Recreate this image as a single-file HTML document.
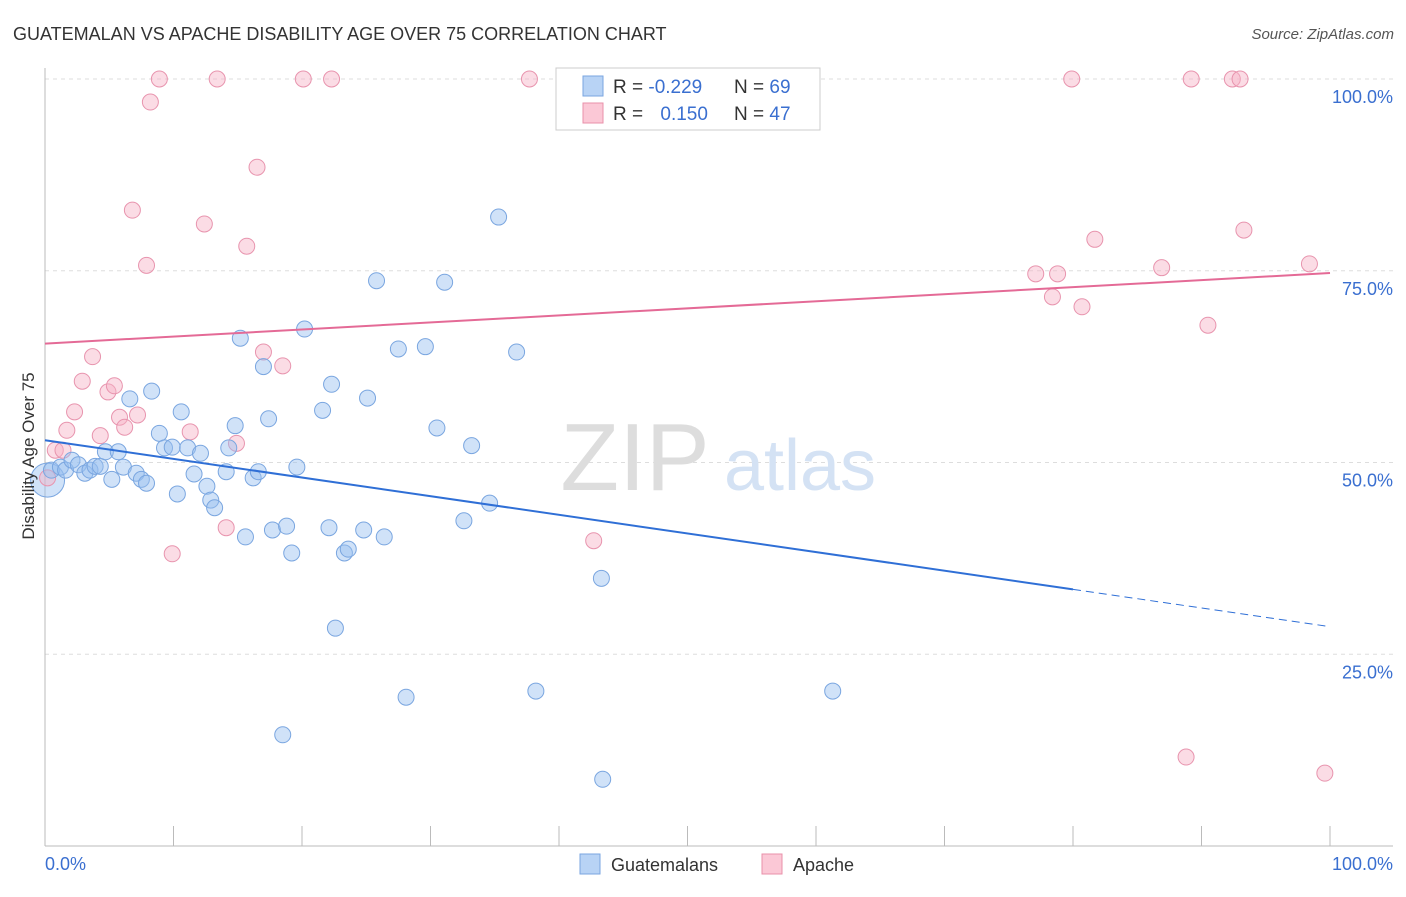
<!DOCTYPE html>
<html><head><meta charset="utf-8">
<style>
body{margin:0;background:#fff;font-family:"Liberation Sans",sans-serif;}
svg text{font-family:"Liberation Sans",sans-serif;}
</style></head>
<body>
<svg id="chart" width="1406" height="892" viewBox="0 0 1406 892" xmlns="http://www.w3.org/2000/svg">
<text x="13" y="40" font-size="18" fill="#333">GUATEMALAN VS APACHE DISABILITY AGE OVER 75 CORRELATION CHART</text>
<text x="1394" y="39" font-size="15" fill="#555" text-anchor="end" font-style="italic">Source: ZipAtlas.com</text>
<g id="grid"></g>
<g>
<text x="635" y="490" font-size="96" font-family="Liberation Serif" fill="#ddd" text-anchor="middle">ZIP</text>
<text x="800" y="490" font-size="72" fill="#d4e2f4" text-anchor="middle">atlas</text>
</g>
<g id="axes"></g>
<g id="marks"></g>
<g id="trends"></g>
<text transform="translate(34,456) rotate(-90)" font-size="17" fill="#333" text-anchor="middle">Disability Age Over 75</text>
<g>
<rect x="556" y="68" width="264" height="62" fill="#fff" stroke="#ccc"/>
<rect x="583" y="76" width="20" height="20" fill="#b8d3f5" stroke="#7aa6e0"/>
<rect x="583" y="103" width="20" height="20" fill="#fbc8d6" stroke="#e890aa"/>
<text x="613" y="93" font-size="19" fill="#333">R = <tspan fill="#3a6fd0">-0.229</tspan></text>
<text x="734" y="93" font-size="19" fill="#333">N = <tspan fill="#3a6fd0">69</tspan></text>
<text x="613" y="120" font-size="19" fill="#333">R = <tspan fill="#3a6fd0" dx="12">0.150</tspan></text>
<text x="734" y="120" font-size="19" fill="#333">N = <tspan fill="#3a6fd0">47</tspan></text>
</g>
<g>
<rect x="580" y="854" width="20" height="20" fill="#b8d3f5" stroke="#7aa6e0"/>
<text x="611" y="871" font-size="18" fill="#333">Guatemalans</text>
<rect x="762" y="854" width="20" height="20" fill="#fbc8d6" stroke="#e890aa"/>
<text x="793" y="871" font-size="18" fill="#333">Apache</text>
</g>
</svg>
<script>
const yTicks=[25,50,75,100];
const yTickLabels=["25.0%","50.0%","75.0%","100.0%"];
const xTicks=[0,10,20,30,40,50,60,70,80,90,100];
const blueX=[0.5,1.2,1.6,2.1,2.6,3.1,3.5,3.9,4.3,4.7,5.2,5.7,6.1,6.6,7.1,7.5,7.9,8.3,8.9,9.3,9.9,10.3,10.6,11.1,11.6,12.1,12.6,12.9,13.2,14.1,14.3,14.8,15.2,15.6,16.2,16.6,17.0,17.4,17.7,18.8,18.5,19.2,19.6,20.2,21.6,22.1,22.3,22.6,23.3,23.6,24.8,25.1,25.8,26.4,27.5,28.1,29.6,30.5,31.1,32.6,33.2,34.6,35.3,36.7,38.2,43.3,43.4,61.3];
const blueY=[49.0,49.4,49.0,50.3,49.7,48.6,49.0,49.5,49.5,51.4,47.8,51.4,49.4,58.3,48.6,47.8,47.3,59.3,53.8,51.9,52.0,45.9,56.6,51.9,48.5,51.2,46.9,45.1,44.1,48.8,51.9,54.8,66.2,40.3,48.0,48.8,62.5,55.7,41.2,41.7,14.5,38.2,49.4,67.4,56.8,41.5,60.2,28.4,38.2,38.7,41.2,58.4,73.7,40.3,64.8,19.4,65.1,54.5,73.5,42.4,52.2,44.7,82.0,64.4,20.2,34.9,8.7,20.2];
const blueBig=[0.2,47.7];
const pinkX=[0.2,0.8,1.4,1.7,2.3,2.9,3.7,4.3,4.9,5.4,5.8,6.2,6.8,7.2,7.9,8.2,8.9,9.9,11.3,12.4,13.4,14.1,14.9,15.7,16.5,17.0,18.5,20.1,22.3,37.7,42.7,77.1,78.4,78.8,79.9,80.7,81.7,86.9,88.8,89.2,90.5,92.4,93.0,93.3,98.4,99.6];
const pinkY=[48.0,51.6,51.6,54.2,56.6,60.6,63.8,53.5,59.2,60.0,55.9,54.6,82.9,56.2,75.7,97.0,100,38.1,54.0,81.1,100,41.5,52.5,78.2,88.5,64.4,62.6,100,100,100,39.8,74.6,71.6,74.6,100,70.3,79.1,75.4,11.6,100,67.9,100,100,80.3,75.9,9.5];
const blueTrend=[52.9,28.6];
const pinkTrend=[65.5,74.7];
const blueSolidEnd=80;

const NS="http://www.w3.org/2000/svg";
const X=v=>45+v*12.85;
const Y=v=>846-v*7.67;
function mk(tag,attrs,parent){const e=document.createElementNS(NS,tag);for(const k in attrs)e.setAttribute(k,attrs[k]);document.getElementById(parent).appendChild(e);return e;}
yTicks.forEach((t,i)=>{
 const l=mk('line',{x1:45,x2:1393,y1:Y(t),y2:Y(t),stroke:'#ddd','stroke-dasharray':'4,4'},'grid');
 
 
 const tx=mk('text',{x:1393,y:Y(t)+24,'font-size':18,fill:'#3a6fd0','text-anchor':'end'},'axes');
 tx.textContent=yTickLabels[i];
 
 
});
const ax=mk('line',{x1:45,x2:45,y1:68,y2:846,stroke:'#bbb'},'axes');


const bx=mk('line',{x1:45,x2:1393,y1:846,y2:846,stroke:'#bbb'},'axes');


xTicks.forEach(t=>{
 const l=mk('line',{x1:X(t),x2:X(t),y1:826,y2:846,stroke:'#bbb'},'axes');
 
 
});
[[0,'0.0%','start',45],[100,'100.0%','end',1393]].forEach(a=>{
 const tx=mk('text',{x:a[3],y:870,'font-size':18,fill:'#3a6fd0','text-anchor':a[2]},'axes');
 tx.textContent=a[1];
 
 
});
const bb=mk('circle',{cx:X(blueBig[0]),cy:Y(blueBig[1]),r:17,fill:'rgba(150,190,240,0.45)',stroke:'#7aa6e0','stroke-width':1},'marks');


pinkX.forEach((v,i)=>{
 const c=mk('circle',{cx:X(v),cy:Y(pinkY[i]),r:8,fill:'rgba(246,178,198,0.45)',stroke:'#e894ae','stroke-width':1},'marks');
 
 
});
blueX.forEach((v,i)=>{
 const c=mk('circle',{cx:X(v),cy:Y(blueY[i]),r:8,fill:'rgba(150,190,240,0.45)',stroke:'#7aa6e0','stroke-width':1},'marks');
 
 
});
const by=x=>blueTrend[0]+(blueTrend[1]-blueTrend[0])*x/100;
const t1=mk('line',{x1:X(0),y1:Y(by(0)),x2:X(blueSolidEnd),y2:Y(by(blueSolidEnd)),stroke:'#2f6fd6','stroke-width':2},'trends');


const t2=mk('line',{x1:X(blueSolidEnd),y1:Y(by(blueSolidEnd)),x2:X(100),y2:Y(by(100)),stroke:'#2f6fd6','stroke-width':1,'stroke-dasharray':'8,5'},'trends');


const t3=mk('line',{x1:X(0),y1:Y(pinkTrend[0]),x2:X(100),y2:Y(pinkTrend[1]),stroke:'#e46a96','stroke-width':2},'trends');


</script>
</body></html>
